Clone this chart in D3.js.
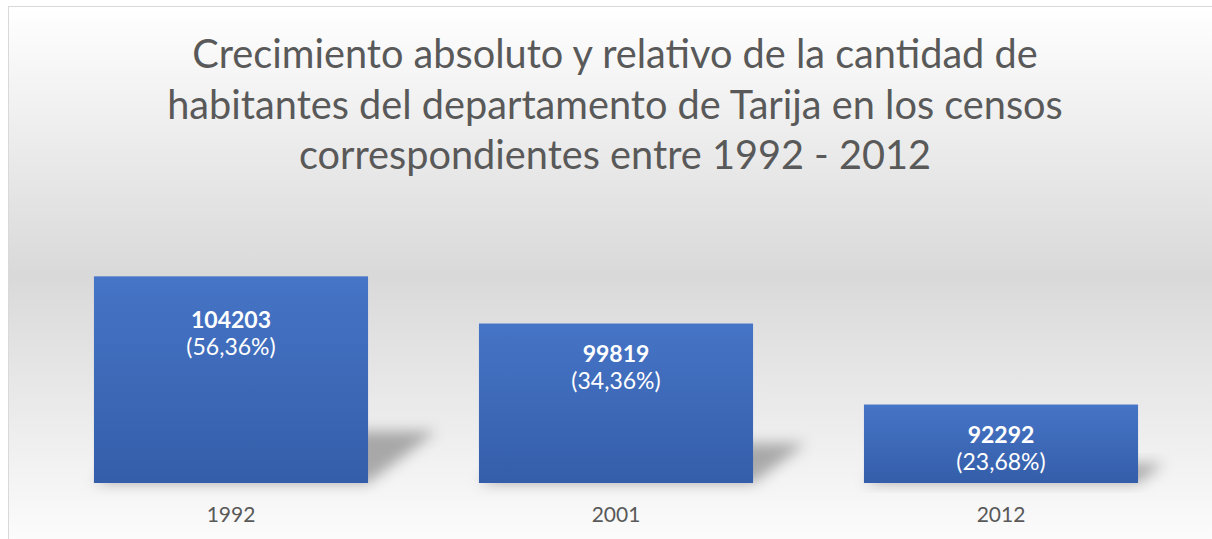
<!DOCTYPE html>
<meta charset="utf-8">
<head>
<style>
  body { margin: 0; background: #fff; }
  svg { display: block; }
  .title { font-family: Lato, "Open Sans", sans-serif; fill: #595959; }
  .cat { font-family: Lato, sans-serif; fill: #595959; font-size: 21px; }
  .lbl { font-family: Lato, sans-serif; fill: #fff; font-size: 23px; }
</style>
</head>
<body>
<div id="content"></div>
<script src="https://cdn.jsdelivr.net/npm/d3@7"></script>
<script>

// data
var years = ["1992", "2001", "2012"];
var habitantes = [104203, 99819, 92292];
var crecimiento = ["56,36%", "34,36%", "23,68%"];
var titleLines = [
  "Crecimiento absoluto y relativo de la cantidad de",
  "habitantes del departamento de Tarija en los censos",
  "correspondientes entre 1992 - 2012"
];
// label nudges (the first label was moved down by hand in the original)
var labelShift = [14, 0, 0];

var W = 1212, H = 539;

var svg = d3.select("#content").append("svg")
    .attr("width", W)
    .attr("height", H);

var defs = svg.append("defs");

var bg = defs.append("linearGradient")
    .attr("id", "bg")
    .attr("x1", 0).attr("y1", 0).attr("x2", 0).attr("y2", 1);
bg.append("stop").attr("offset", "0%").attr("stop-color", "#ffffff");
bg.append("stop").attr("offset", "48%").attr("stop-color", "#d9d9d9");
bg.append("stop").attr("offset", "100%").attr("stop-color", "#ffffff");

var barGrad = defs.append("linearGradient")
    .attr("id", "barGrad")
    .attr("x1", 0).attr("y1", 0).attr("x2", 0).attr("y2", 1);
barGrad.append("stop").attr("offset", "0%").attr("stop-color", "#4674c6");
barGrad.append("stop").attr("offset", "100%").attr("stop-color", "#345ea9");

defs.append("filter")
    .attr("id", "blur")
    .attr("x", "-50%").attr("y", "-50%").attr("width", "200%").attr("height", "200%")
  .append("feGaussianBlur")
    .attr("stdDeviation", 7);

// chart area, runs off the right and bottom edge like the screenshot
svg.append("rect")
    .attr("x", 8.5).attr("y", 6.5)
    .attr("width", W + 20).attr("height", 560)
    .attr("fill", "url(#bg)")
    .attr("stroke", "#d9d9d9")
    .attr("stroke-width", 1);

var title = svg.append("text")
    .attr("class", "title")
    .attr("text-anchor", "middle")
    .attr("font-size", 39.7);
title.selectAll("tspan")
  .data(titleLines)
  .enter()
  .append("tspan")
    .attr("x", 615)
    .attr("y", function(d, i) { return 68 + i * 50.5; })
    .text(function(d) { return d; });

var x = d3.scaleBand()
    .domain(years)
    .range([38.5, 1193.5])
    .paddingInner(0.288)
    .paddingOuter(0.144);

var y = d3.scaleLinear()
    .domain([85000, 106000])
    .range([483, 257]);

var base = y.range()[0];

// perspective shadows behind bars
svg.selectAll("path.shadow")
  .data(habitantes)
  .enter()
  .append("path")
    .attr("class", "shadow")
    .attr("fill", "rgba(0,0,0,0.3)")
    .attr("filter", "url(#blur)")
    .attr("d", function(d, i) {
      var h = base - y(d);
      var x0 = x(years[i]), x1 = x0 + x.bandwidth();
      var sh = h * 0.25, sk = h * 0.33;
      return "M" + x0 + "," + base + "L" + x1 + "," + base +
             "L" + (x1 + sk) + "," + (base - sh) + "L" + (x0 + sk) + "," + (base - sh) + "Z";
    });

svg.selectAll("rect.bar")
  .data(habitantes)
  .enter()
  .append("rect")
    .attr("class", "bar")
    .attr("x", function(d, i) { return x(years[i]); })
    .attr("y", function(d) { return y(d); })
    .attr("width", x.bandwidth())
    .attr("height", function(d) { return base - y(d); })
    .attr("fill", "url(#barGrad)");

var lbl = svg.selectAll("text.lbl")
  .data(habitantes)
  .enter()
  .append("text")
    .attr("class", "lbl")
    .attr("text-anchor", "middle");

lbl.append("tspan")
    .attr("x", function(d, i) { return x(years[i]) + x.bandwidth() / 2; })
    .attr("y", function(d, i) { return y(d) + 38 + labelShift[i]; })
    .attr("font-weight", "bold")
    .text(function(d) { return d; });

lbl.append("tspan")
    .attr("x", function(d, i) { return x(years[i]) + x.bandwidth() / 2; })
    .attr("y", function(d, i) { return y(d) + 65 + labelShift[i]; })
    .text(function(d, i) { return "(" + crecimiento[i] + ")"; });

var xAxis = svg.append("g")
    .attr("transform", "translate(0," + base + ")")
    .call(d3.axisBottom(x).tickSize(0).tickPadding(24));
xAxis.select(".domain").remove();
xAxis.selectAll("text")
    .attr("class", "cat")
    .attr("font-family", null)
    .attr("font-size", null)
    .attr("fill", null);

</script>
</body>
</html>
